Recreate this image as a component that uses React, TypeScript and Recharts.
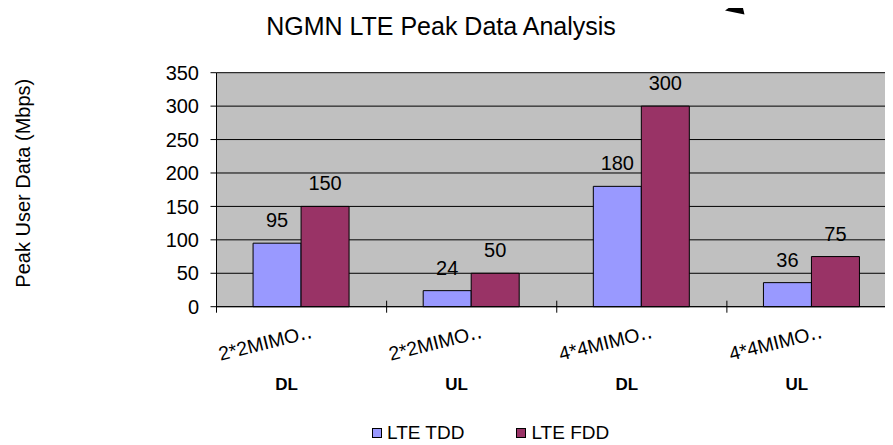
import React from 'react';
import { BarChart, Bar, XAxis, YAxis, CartesianGrid, Legend, LabelList } from 'recharts';

const configs = ['2*2MIMO‥', '2*2MIMO‥', '4*4MIMO‥', '4*4MIMO‥'];
const directions = ['DL', 'UL', 'DL', 'UL'];
const lteTdd = [95, 24, 180, 36];
const lteFdd = [150, 50, 300, 75];
const yTicks = [0, 50, 100, 150, 200, 250, 300, 350];
const seriesNames = ['LTE TDD', 'LTE FDD'];
const title = 'NGMN LTE Peak Data Analysis';
const yTitle = 'Peak User Data (Mbps)';

const data = configs.map((c, i) => ({
  cat: `${c} ${directions[i]}`,
  tdd: lteTdd[i],
  fdd: lteFdd[i],
}));

const FONT = '"Liberation Sans", Arial, "DejaVu Sans", sans-serif';

const XTick = (props: any) => {
  const { x, y, payload, width, visibleTicksCount } = props;
  const idx = payload.index;
  const half = width / visibleTicksCount / 2;
  const ax = x + 11.5;
  const ay = y + 31;
  return (
    <g>
      <line x1={x - half} x2={x - half} y1={y - 6} y2={y + 6} stroke="#000" strokeWidth={1} />
      <text
        x={ax}
        y={ay}
        textAnchor="end"
        transform={`rotate(-14, ${ax}, ${ay})`}
        fontSize={19.5}
        fontFamily={FONT}
        fill="#000"
      >
        {configs[idx]}
      </text>
      <text x={x - 15} y={y + 83} textAnchor="middle" fontSize={17} fontWeight="bold" fontFamily={FONT} fill="#000">
        {directions[idx]}
      </text>
    </g>
  );
};

const YLabel = (props: any) => {
  const vb = props.viewBox || { x: 0, y: 0, width: 0, height: 0 };
  const cx = vb.x + 6.5;
  const cy = vb.y + vb.height / 2 - 6.5;
  return (
    <text
      x={cx}
      y={cy}
      textAnchor="middle"
      dominantBaseline="central"
      transform={`rotate(-90, ${cx}, ${cy})`}
      fontSize={20}
      fontFamily={FONT}
      fill="#000"
    >
      {yTitle}
    </text>
  );
};

const LegendContent = (props: any) => {
  const payload = [...(props.payload || [])].sort(
    (a: any, b: any) => seriesNames.indexOf(a.value) - seriesNames.indexOf(b.value)
  );
  return (
    <div
      style={{
        display: 'flex',
        alignItems: 'center',
        height: 16,
        lineHeight: '16px',
        paddingLeft: 372,
        fontFamily: FONT,
        fontSize: 19,
        color: '#000',
        whiteSpace: 'nowrap',
      }}
    >
      {payload.map((p: any, i: number) => (
        <div key={i} style={{ display: 'flex', alignItems: 'center', marginRight: 52 }}>
          <span
            style={{
              display: 'inline-block',
              width: 10,
              height: 10,
              boxSizing: 'border-box',
              background: p.color,
              border: '1px solid #000',
              marginRight: 5,
            }}
          />
          <span>{p.value}</span>
        </div>
      ))}
    </div>
  );
};

export default function App() {
  return (
    <div
      style={{
        position: 'relative',
        width: 893,
        height: 445,
        marginLeft: -8,
        marginTop: -8,
        overflow: 'hidden',
        background: '#fff',
      }}
    >
      <BarChart
        width={900}
        height={445}
        data={data}
        margin={{ top: 72.7, right: 3, left: 16.5, bottom: 92.3 }}
        barCategoryGap="21.5%"
        barGap={0}
      >
        <CartesianGrid vertical={false} stroke="#000" fill="#C0C0C0" fillOpacity={1} />
        <XAxis
          dataKey="cat"
          tick={<XTick />}
          tickLine={false}
          tickSize={0}
          tickMargin={0}
          interval={0}
          height={30}
          axisLine={{ stroke: '#000' }}
        />
        <YAxis
          width={200}
          domain={[0, 350]}
          ticks={yTicks}
          interval={0}
          tickSize={6}
          tickMargin={11.5}
          axisLine={{ stroke: '#000' }}
          tickLine={{ stroke: '#000' }}
          tick={{ fontSize: 20, fill: '#000', fontFamily: FONT }}
          label={<YLabel />}
        />
        <Legend
          content={<LegendContent />}
          verticalAlign="bottom"
          height={16}
          wrapperStyle={{ top: 425, bottom: 'auto', left: 0, width: 893 }}
        />
        <Bar dataKey="tdd" name={seriesNames[0]} fill="#9999FF" stroke="#000" strokeWidth={1} isAnimationActive={false}>
          <LabelList dataKey="tdd" position="top" offset={16} fontSize={20} fill="#000" fontFamily={FONT} />
        </Bar>
        <Bar dataKey="fdd" name={seriesNames[1]} fill="#993366" stroke="#000" strokeWidth={1} isAnimationActive={false}>
          <LabelList dataKey="fdd" position="top" offset={16} fontSize={20} fill="#000" fontFamily={FONT} />
        </Bar>
      </BarChart>
      <svg
        width={893}
        height={445}
        style={{ position: 'absolute', left: 0, top: 0, pointerEvents: 'none' }}
      >
        <text x={441} y={35} textAnchor="middle" fontSize={25} fontFamily={FONT} fill="#000">
          {title}
        </text>
        <line x1={740} y1={7} x2={776} y2={-1} stroke="#000" strokeWidth={3} />
        <polygon points="725,10.5 744.5,14.5 741,-0.5" fill="#000" />
      </svg>
    </div>
  );
}
